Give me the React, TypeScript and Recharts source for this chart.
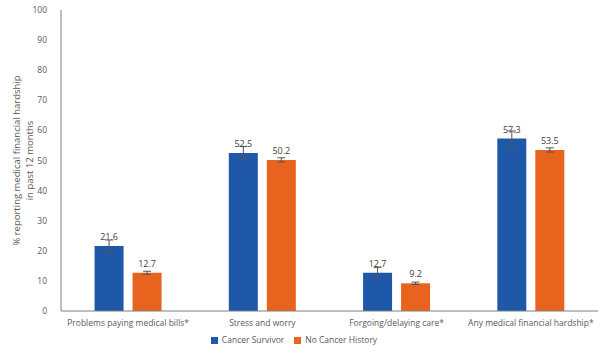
import React from 'react';
import { BarChart, Bar, XAxis, YAxis, Legend, ErrorBar, LabelList } from 'recharts';

const categories = [
  'Problems paying medical bills*',
  'Stress and worry',
  'Forgoing/delaying care*',
  'Any medical financial hardship*',
];
const survivorValues = [21.6, 52.5, 12.7, 57.3];
const survivorErrors = [2.0, 2.2, 1.8, 2.5];
const noHistoryValues = [12.7, 50.2, 9.2, 53.5];
const noHistoryErrors = [0.5, 0.7, 0.4, 0.7];
const yTicks = [0, 10, 20, 30, 40, 50, 60, 70, 80, 90, 100];

const data = categories.map((name, i) => ({
  name,
  survivor: survivorValues[i],
  survivorErr: survivorErrors[i],
  noHistory: noHistoryValues[i],
  noHistoryErr: noHistoryErrors[i],
}));

const FONT = '"Open Sans", "Noto Sans", sans-serif';
const GRAY = '#595959';

function YLabel(props: any) {
  const vb = props.viewBox || {};
  const cy = vb.y + vb.height / 2;
  return (
    <text
      transform={`translate(26, ${cy}) rotate(-90)`}
      textAnchor="middle"
      fontFamily={FONT}
      fontSize={9.5}
      fill={GRAY}
    >
      <tspan x={0} dy={-6}>% reporting medical financial hardship</tspan>
      <tspan x={0} dy={13}>in past 12 months</tspan>
    </text>
  );
}

export default function App() {
  return (
    <div style={{ position: 'absolute', left: 0, top: 0, width: 600, height: 353, background: '#fff' }}>
      <BarChart
        width={600}
        height={353}
        data={data}
        margin={{ top: 10, right: 2, left: 0, bottom: 1 }}
        barCategoryGap="25%"
        barGap={9}
      >
        <XAxis
          dataKey="name"
          tickLine={false}
          axisLine={{ stroke: '#7f7f7f' }}
          tick={{ fontFamily: FONT, fontSize: 8.5, fill: GRAY }}
          tickMargin={3}
          interval={0}
        />
        <YAxis
          width={61}
          domain={[0, 100]}
          ticks={yTicks}
          tickLine={false}
          axisLine={{ stroke: '#7f7f7f' }}
          tick={{ fontFamily: FONT, fontSize: 8.5, fill: GRAY }}
          tickMargin={8}
          label={<YLabel />}
        />
        <Legend
          verticalAlign="bottom"
          align="center"
          iconType="square"
          iconSize={7}
          wrapperStyle={{ fontFamily: FONT, fontSize: 8.5, color: GRAY, top: 334 }}
          formatter={(v: string) => <span style={{ color: GRAY }}>{v}</span>}
        />
        <Bar dataKey="survivor" name="Cancer Survivor" fill="#1f58a8" isAnimationActive={false}>
          <ErrorBar dataKey="survivorErr" width={4} stroke="#555" strokeWidth={1} />
          <LabelList dataKey="survivor" position="top" offset={6} style={{ fontFamily: FONT, fontSize: 9, fill: '#404040' }} />
        </Bar>
        <Bar dataKey="noHistory" name="No Cancer History" fill="#e8641e" isAnimationActive={false}>
          <ErrorBar dataKey="noHistoryErr" width={4} stroke="#555" strokeWidth={1} />
          <LabelList dataKey="noHistory" position="top" offset={6} style={{ fontFamily: FONT, fontSize: 9, fill: '#404040' }} />
        </Bar>
      </BarChart>
    </div>
  );
}
